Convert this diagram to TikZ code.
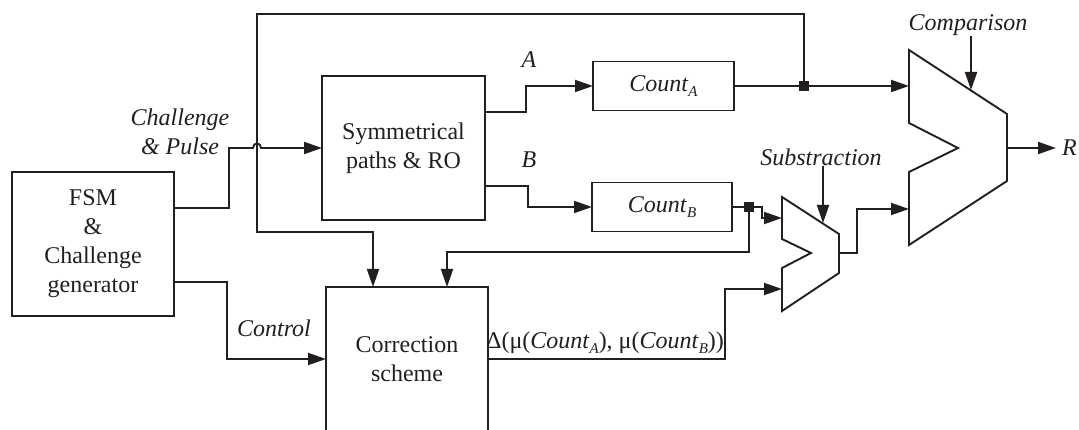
\documentclass[tikz,border=0pt]{standalone}
\usepackage{fontspec}
\setmainfont{Liberation Serif}
\usetikzlibrary{arrows.meta}
\definecolor{ink}{RGB}{35,31,32}
\tikzset{
  base/.style={font=\fontsize{24}{29}\selectfont, text=ink},
  blk/.style={base, draw=ink, line width=1.9pt, inner sep=0pt, outer sep=0pt, align=center},
  wire/.style={draw=ink, line width=1.9pt},
  arr/.style={wire, -{Triangle[length=18pt,width=12pt]}},
  lbl/.style={base, font=\fontsize{24}{29}\selectfont\itshape, inner sep=0pt, align=center},
  junc/.style={fill=ink, minimum size=10pt, inner sep=0pt, outer sep=0pt},
  unit/.style={draw=ink, line width=1.9pt, line join=miter},
}
% italic counter name with a small italic index
\newcommand{\cnt}[1]{\textit{Count}\raisebox{-0.22em}{\fontsize{15}{15}\selectfont\textit{#1}}}
\begin{document}
\begin{tikzpicture}[x=1pt, y=-1pt]
  \useasboundingbox (0,0) rectangle (1079,430);
  \clip (0,0) rectangle (1079,430);

  % blocks
  \node[blk, minimum width=162pt, minimum height=144pt] (fsm) at (93,244) {FSM\\\&\\Challenge\\generator};
  \node[blk, minimum width=163pt, minimum height=144pt] (sym) at (403.5,148) {Symmetrical\\paths \& RO};
  \node[blk, minimum width=141pt, minimum height=49pt] (ca) at (663.5,86) {\cnt{A}};
  \node[blk, minimum width=140pt, minimum height=49pt] (cb) at (662,207) {\cnt{B}};
  \node[blk, anchor=north, minimum width=162pt, minimum height=170pt] (cor) at (407,287) {};
  \node[base, align=center, inner sep=0pt] (cortext) at (407,359) {Correction\\scheme};

  % comparator
  \draw[unit] (909,50) -- (1007,114) -- (1007,181) -- (909,245) -- (909,172)
              -- (958,148) -- (909,123) -- cycle;
  \coordinate (cmpA) at (909,86);
  \coordinate (cmpB) at (909,209);
  \coordinate (cmpOut) at (1007,148);
  \coordinate (cmpCtl) at (971,90);

  % subtractor
  \draw[unit] (782,197) -- (839,234) -- (839,273) -- (782,311) -- (782,268)
              -- (811,253) -- (782,239) -- cycle;
  \coordinate (subA) at (782,218);
  \coordinate (subB) at (782,289);
  \coordinate (subOut) at (839,253);
  \coordinate (subCtl) at (823,223);

  % junctions
  \node[junc] (jA) at (804,86) {};
  \node[junc] (jB) at (749,207) {};

  % labels
  \node[lbl] (cp) at (180,132) {Challenge\\\& Pulse};
  \node[lbl] (la) at (529,60) {A};
  \node[lbl] (lb) at (529,160) {B};
  \node[lbl] (cmplbl) at (968,25) {Comparison};
  \node[lbl] (sublbl) at (821,157) {Substraction};
  \node[lbl] (ctl) at (274,328) {Control};
  \node[base, inner sep=0pt] (delta) at (605,343) {Δ(μ(\cnt{A}), μ(\cnt{B}))};
  \coordinate (rtip) at (1056,148);
  \node[lbl, anchor=west] (r) at (1062,148) {R};

  % wires
  \draw[arr] (fsm.east |- 0,208) -- (229,208) -- (229,148) -- (253,148)
     .. controls (253,142) and (261,142) .. (261,148) -- (sym.west);
  \draw[arr] (jA.center) -- (804,14) -- (257,14) -- (257,232) -- (373,232) -- (373,0 |- cor.north);
  \draw[arr] (sym.east |- 0,112) -- (526,112) -- (526,86) -- (ca.west);
  \draw[arr] (sym.east |- 0,186) -- (528,186) -- (528,207) -- (cb.west);
  \draw[arr] (ca.east) -- (jA.center) -- (cmpA);
  \draw[arr] (cb.east) -- (jB.center) -- (762,207) -- (762,218) -- (subA);
  \draw[arr] (jB.center) -- (749,252) -- (447,252) -- (447,0 |- cor.north);
  \draw[arr] (cor.east |- 0,359) -- (725,359) -- (725,289) -- (subB);
  \draw[arr] (subOut) -- (857,253) -- (857,209) -- (cmpB);
  \draw[arr] (cmpOut) -- (rtip);
  \draw[arr] (fsm.east |- 0,282) -- (227,282) -- (227,359) -- (cor.west |- 0,359);
  \draw[arr] (cmplbl.south -| cmpCtl) -- (cmpCtl);
  \draw[arr] (sublbl.south -| subCtl) -- (subCtl);
\end{tikzpicture}
\end{document}
